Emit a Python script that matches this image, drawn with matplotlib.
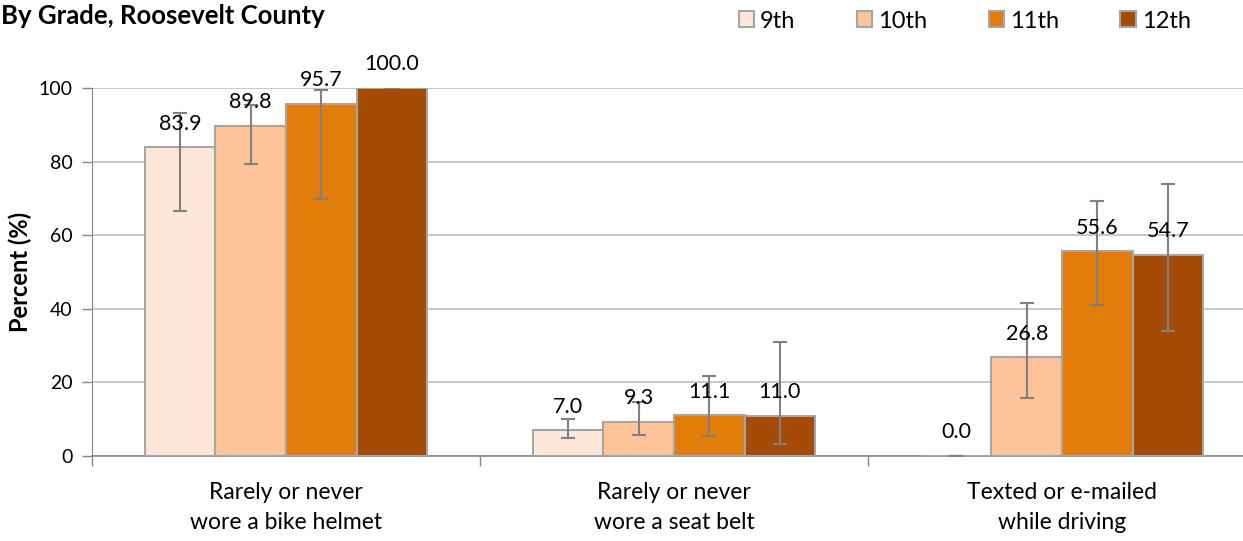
import matplotlib.pyplot as plt
import matplotlib.patches as mpatches
import numpy as np

plt.rcParams["font.family"] = ["Lato", "DejaVu Sans"]

# ---------------------------------------------------------------------------
# Data
# ---------------------------------------------------------------------------
categories = [
    "Rarely or never\nwore a bike helmet",
    "Rarely or never\nwore a seat belt",
    "Texted or e-mailed\nwhile driving",
]
grades = ["9th", "10th", "11th", "12th"]

values = {
    "9th":  [83.9, 7.0, 0.0],
    "10th": [89.8, 9.3, 26.8],
    "11th": [95.7, 11.1, 55.6],
    "12th": [100.0, 11.0, 54.7],
}
ci_low = {
    "9th":  [66.5, 4.8, 0.0],
    "10th": [79.4, 5.7, 15.8],
    "11th": [69.9, 5.3, 41.1],
    "12th": [100.0, 3.3, 33.9],
}
ci_high = {
    "9th":  [93.3, 10.1, 0.0],
    "10th": [95.3, 14.6, 41.6],
    "11th": [99.5, 21.7, 69.3],
    "12th": [100.0, 31.1, 74.0],
}
colors = ["#FEE6D8", "#FDC49A", "#E37D0A", "#A44B07"]

# ---------------------------------------------------------------------------
# Figure
# ---------------------------------------------------------------------------
fig = plt.figure(figsize=(12.43, 5.41), dpi=100)
ax = fig.add_axes([92 / 1243, 1 - 456 / 541, (1256 - 92) / 1243, (456 - 88) / 541])

n = len(grades)
bar_w = 1 / (n + 1.5)
x = np.arange(len(categories))

for i, g in enumerate(grades):
    pos = x + (i - (n - 1) / 2) * bar_w
    vals = np.array(values[g])
    lo = vals - np.array(ci_low[g])
    hi = np.array(ci_high[g]) - vals
    ax.bar(pos, vals, width=bar_w, color=colors[i], edgecolor="#A6A6A6",
           linewidth=1.5, zorder=3)
    ax.errorbar(pos, vals, yerr=[lo, hi], fmt="none", ecolor="#808080",
                elinewidth=1.5, capsize=5, capthick=1.5, zorder=4)
    for px, v in zip(pos, vals):
        ax.annotate(f"{v:.1f}", (px, v), xytext=(0, 17), textcoords="offset points",
                    ha="center", va="center", fontsize=15.5, color="black", zorder=5)

ax.set_xlim(-0.5, len(categories) - 0.5)
ax.set_ylim(0, 100)
ax.set_yticks(np.arange(0, 101, 20))
ax.yaxis.grid(True, color="#BFBFBF", linewidth=1.2, zorder=0)
ax.set_axisbelow(True)

ax.set_xticks(np.arange(len(categories) + 1) - 0.5)
ax.set_xticklabels([])
ax.tick_params(axis="x", length=7, color="#868686", width=1)
ax.tick_params(axis="y", length=7, color="#868686", width=1, labelsize=14, pad=7)
for px, lab in zip(x, categories):
    ax.text(px, -0.07, lab, transform=ax.get_xaxis_transform(), ha="center",
            va="top", fontsize=16.5, linespacing=1.55)

for s in ["top", "right"]:
    ax.spines[s].set_visible(False)
ax.spines["left"].set_color("#868686")
ax.spines["bottom"].set_color("#868686")
ax.spines["bottom"].set_linewidth(1.2)

fig.text(20 / 1243, 1 - 272 / 541, "Percent (%)", rotation=90, ha="center",
         va="center", fontsize=17, fontweight="bold")
fig.text(1 / 1243, 1 - 16 / 541, "By Grade, Roosevelt County", ha="left",
         va="center", fontsize=18.5, fontweight="bold")

handles = [mpatches.Patch(facecolor=c, edgecolor="#A6A6A6", linewidth=1.5, label=g)
           for c, g in zip(colors, grades)]
fig.legend(handles=handles, loc="center right", bbox_to_anchor=(1200 / 1243, 1 - 21 / 541),
           ncol=4, frameon=False, fontsize=17, handlelength=0.65, handleheight=0.65,
           handletextpad=0.25, columnspacing=2.6, borderaxespad=0)

fig.savefig("out.png", dpi=100)
